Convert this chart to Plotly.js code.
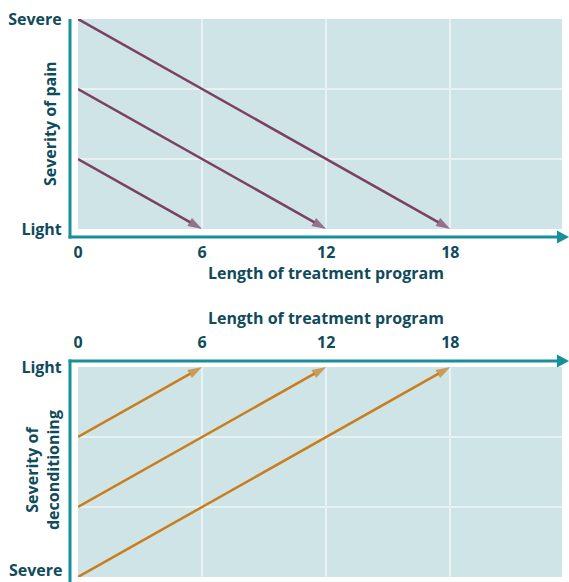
<!DOCTYPE html>
<html>
<head>
<meta charset="utf-8">
<script src="https://cdn.plot.ly/plotly-3.0.1.min.js"></script>
<style>html,body{margin:0;padding:0;background:#fff;}#chart{width:569px;height:582px;}</style>
</head>
<body>
<div id="chart"></div>
<script>
// ---- data ----
const programLengths = [6, 12, 18];          // months, end of each treatment program
const startSeverity = [1, 2, 3];             // severity level at month 0 (0 = Light, 3 = Severe)
const endSeverity = [0, 0, 0];               // severity at end of program
const xTickVals = [0, 6, 12, 18];
const yTickVals = [0, 1, 2, 3];
const painTickText = ['Light', '', '', 'Severe'];
const decondTickText = ['Light', '', '', ''];
const decondBottomLabel = 'Severe';
const xTitle = 'Length of treatment program';
const painTitle = 'Severity of pain';
const decondTitle = 'Severity of<br>deconditioning';

// ---- styling ----
const W = 569, H = 582;
const M = {l: 78, r: 7, t: 19, b: 5};
const pw = W - M.l - M.r, ph = H - M.t - M.b;
const px = v => (v - M.l) / pw;
const py = v => (H - M.b - v) / ph;
const textColor = '#0f4b5b';
const axisColor = '#16909a';
const bgColor = '#cfe4e6';
const gridColor = '#e9f2f2';
const purple = '#7c4064';
const orange = '#c97d1b';
const FONT = 'Open Sans, Noto Sans, sans-serif';
const tickFont = {family: FONT, size: 16, color: textColor, weight: 700};

const traces = [];
programLengths.forEach((len, i) => {
  traces.push({
    type: 'scatter', mode: 'lines+markers',
    x: [0, len], y: [startSeverity[i], endSeverity[i]],
    xaxis: 'x', yaxis: 'y', cliponaxis: false, hoverinfo: 'skip',
    line: {color: purple, width: 2.5},
    marker: {symbol: ['circle', 'arrow'], size: [0, 15], color: purple, angleref: 'previous', line: {width: 0}}
  });
  traces.push({
    type: 'scatter', mode: 'lines+markers',
    x: [0, len], y: [startSeverity[i], endSeverity[i]],
    xaxis: 'x2', yaxis: 'y2', cliponaxis: false, hoverinfo: 'skip',
    line: {color: orange, width: 2.5},
    marker: {symbol: ['circle', 'arrow'], size: [0, 15], color: orange, angleref: 'previous', line: {width: 0}}
  });
});

const xCommon = {
  range: [0, 23.4], tickvals: xTickVals, showgrid: true, gridcolor: gridColor, gridwidth: 2,
  zeroline: false, showline: false, ticks: 'outside', ticklen: 9, tickcolor: 'rgba(0,0,0,0)',
  tickfont: tickFont, fixedrange: true, ticklabeloverflow: 'allow'
};
const yCommon = {
  tickvals: yTickVals, showgrid: true, gridcolor: gridColor, gridwidth: 2,
  zeroline: false, showline: false, ticks: 'outside', ticklen: 12, tickcolor: 'rgba(0,0,0,0)',
  tickfont: tickFont, fixedrange: true, ticklabeloverflow: 'allow'
};

const topY = py(229), botTop = py(367);

const shapes = [];
function axisLines(yPix, vTop, vBot) {
  shapes.push({type: 'line', xref: 'paper', yref: 'paper', x0: px(70), x1: px(70), y0: py(vTop), y1: py(vBot), line: {color: axisColor, width: 3}});
  shapes.push({type: 'line', xref: 'paper', yref: 'paper', x0: px(68.5), x1: px(560), y0: py(yPix), y1: py(yPix), line: {color: axisColor, width: 3}});
  shapes.push({type: 'path', xref: 'paper', yref: 'paper',
    path: `M${px(557)},${py(yPix - 6.5)} L${px(569)},${py(yPix)} L${px(557)},${py(yPix + 6.5)} Z`,
    fillcolor: axisColor, line: {width: 0}});
}
axisLines(237, 19, 238.5);
axisLines(361, 359.5, 582);

const layout = {
  width: W, height: H, margin: M, showlegend: false,
  paper_bgcolor: '#ffffff', plot_bgcolor: bgColor,
  font: {family: FONT, color: textColor},
  xaxis: Object.assign({}, xCommon, {anchor: 'y', domain: [0, 1]}),
  yaxis: Object.assign({}, yCommon, {anchor: 'x', domain: [topY, 1], range: [0, 3], ticktext: painTickText}),
  xaxis2: Object.assign({}, xCommon, {anchor: 'y2', domain: [0, 1], side: 'top', ticklen: 12}),
  yaxis2: Object.assign({}, yCommon, {anchor: 'x2', domain: [0, botTop], range: [3, 0], ticktext: decondTickText}),
  shapes: shapes,
  annotations: [
    {text: xTitle, xref: 'x', yref: 'paper', x: 12, y: py(273), showarrow: false,
     xanchor: 'center', yanchor: 'middle', font: tickFont},
    {text: xTitle, xref: 'x', yref: 'paper', x: 12, y: py(318), showarrow: false,
     xanchor: 'center', yanchor: 'middle', font: tickFont},
    {text: painTitle, xref: 'paper', yref: 'paper', x: px(50), y: py(124), textangle: -90,
     showarrow: false, xanchor: 'center', yanchor: 'middle', font: tickFont},
    {text: decondTitle, xref: 'paper', yref: 'paper', x: px(42), y: py(470), textangle: -90,
     showarrow: false, xanchor: 'center', yanchor: 'middle', font: tickFont, align: 'center'},
    {text: decondBottomLabel, xref: 'paper', yref: 'paper', x: px(64), y: py(582), showarrow: false,
     xanchor: 'right', yanchor: 'bottom', borderpad: 0, font: tickFont}
  ]
};

Plotly.newPlot('chart', traces, layout, {displayModeBar: false, staticPlot: true});
</script>
</body>
</html>
